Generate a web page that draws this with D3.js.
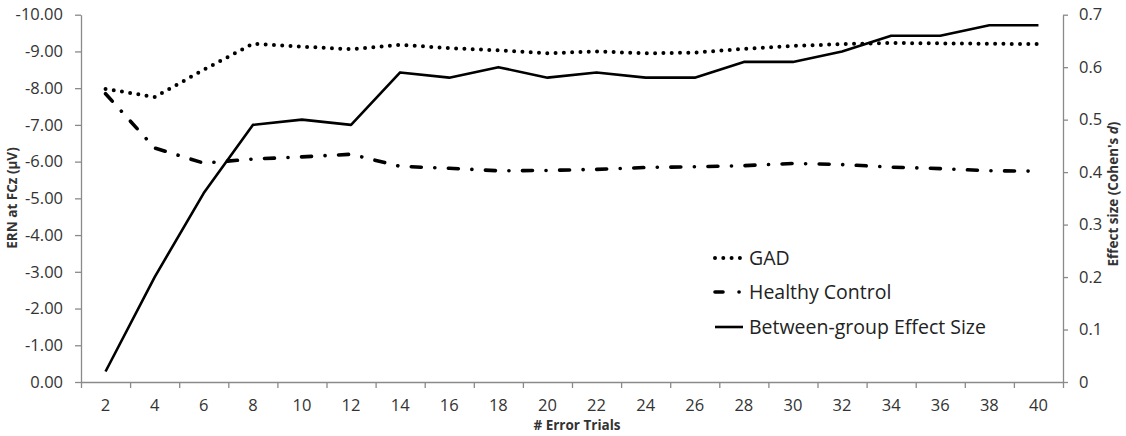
<!DOCTYPE html>
<html>
<head>
<meta charset="utf-8">
<script src="https://cdn.jsdelivr.net/npm/d3@7"></script>
<style>
html,body{margin:0;padding:0;background:#fff;}
svg{display:block;}
</style>
</head>
<body>
<svg id="chart" width="1126" height="436"></svg>
<script>
const trials = [2,4,6,8,10,12,14,16,18,20,22,24,26,28,30,32,34,36,38,40];
const gad = [-7.98,-7.76,-8.5,-9.21,-9.13,-9.06,-9.18,-9.09,-9.03,-8.95,-9.0,-8.95,-8.97,-9.07,-9.15,-9.2,-9.23,-9.22,-9.21,-9.2];
const healthy = [-7.85,-6.37,-5.96,-6.07,-6.13,-6.2,-5.87,-5.82,-5.75,-5.76,-5.79,-5.84,-5.86,-5.89,-5.95,-5.92,-5.85,-5.81,-5.75,-5.74];
const effect = [0.02,0.2,0.36,0.49,0.5,0.49,0.59,0.58,0.6,0.58,0.59,0.58,0.58,0.61,0.61,0.63,0.66,0.66,0.68,0.68];
const leftTicks = [0,-1,-2,-3,-4,-5,-6,-7,-8,-9,-10];
const rightTicks = [0,0.1,0.2,0.3,0.4,0.5,0.6,0.7];
const seriesNames = ["GAD","Healthy Control","Between-group Effect Size"];

const svg = d3.select("#chart");
const L = 81, R = 1063, T = 14.7, B = 382;
const font = "'Open Sans', sans-serif";
const axisColor = "#8a8a8a";
const textColor = "#333";

const x = d3.scaleBand().domain(trials).range([L, R]).padding(0);
const xEdge = d3.scaleLinear().domain([0, trials.length]).range([L, R]);
const yL = d3.scaleLinear().domain([0, -10]).range([B, T]);
const yR = d3.scaleLinear().domain([0, 0.7]).range([B, T]);
const cx = d => x(d) + x.bandwidth() / 2;

function styleAxis(g, size) {
  g.selectAll("path.domain").attr("stroke", axisColor).attr("stroke-width", 1.3);
  g.selectAll(".tick line").attr("stroke", axisColor).attr("stroke-width", 1.3);
  g.selectAll("text").attr("font-family", font).attr("font-size", size).attr("fill", textColor);
}

// x tick marks at band edges
const gxT = svg.append("g").attr("transform", `translate(0,${B})`)
  .call(d3.axisBottom(xEdge).tickValues(d3.range(trials.length + 1)).tickFormat("").tickSize(6).tickSizeOuter(0));
styleAxis(gxT, 16);
// x labels
const gx = svg.append("g").attr("transform", `translate(0,${B})`)
  .call(d3.axisBottom(x).tickSize(0).tickPadding(17));
gx.select("path.domain").remove();
styleAxis(gx, 16.5);

const gl = svg.append("g").attr("transform", `translate(${L},0)`)
  .call(d3.axisLeft(yL).tickValues(leftTicks).tickFormat(d => d.toFixed(2)).tickSize(6).tickPadding(12).tickSizeOuter(0));
styleAxis(gl, 16.5);

const gr = svg.append("g").attr("transform", `translate(${R},0)`)
  .call(d3.axisRight(yR).tickValues(rightTicks).tickFormat(d => String(+d.toFixed(1))).tickSize(5).tickPadding(11).tickSizeOuter(0));
styleAxis(gr, 16.5);

// axis titles
svg.append("text").attr("transform", `translate(17,198) rotate(-90)`)
  .attr("text-anchor", "middle").attr("font-family", font).attr("font-size", 13.5).attr("font-weight", "bold").attr("fill", textColor)
  .text("ERN at FCz (µV)");
const rt = svg.append("text").attr("transform", `translate(1118,194) rotate(-90)`)
  .attr("text-anchor", "middle").attr("font-family", font).attr("font-size", 13.5).attr("font-weight", "bold").attr("fill", textColor);
rt.append("tspan").text("Effect size (Cohen's ");
rt.append("tspan").attr("font-style", "italic").text("d");
rt.append("tspan").text(")");
svg.append("text").attr("x", 577).attr("y", 430)
  .attr("text-anchor", "middle").attr("font-family", font).attr("font-size", 13.5).attr("font-weight", "bold").attr("fill", textColor)
  .text("# Error Trials");

// styles
const styles = [
  {dash: "0 8.3", width: 4, cap: "round"},
  {dash: "10 13.5 0.1 13.5", width: 3.6, cap: "round"},
  {dash: null, width: 2.6, cap: "butt"}
];

const lineL = d3.line().x((d, i) => cx(trials[i])).y(d => yL(d));
const lineR = d3.line().x((d, i) => cx(trials[i])).y(d => yR(d));

function drawPath(data, gen, st) {
  const p = svg.append("path").datum(data).attr("d", gen)
    .attr("fill", "none").attr("stroke", "#000").attr("stroke-width", st.width)
    .attr("stroke-linecap", st.cap).attr("stroke-linejoin", "round");
  if (st.dash) p.attr("stroke-dasharray", st.dash);
}
drawPath(gad, lineL, styles[0]);
drawPath(healthy, lineL, styles[1]);
drawPath(effect, lineR, styles[2]);

// legend
const legY = [258, 292, 327];
seriesNames.forEach((name, i) => {
  const g = svg.append("g");
  const st = styles[i];
  const l = g.append("line").attr("x1", 715).attr("x2", 743).attr("y1", legY[i]).attr("y2", legY[i])
    .attr("stroke", "#000").attr("stroke-width", st.width).attr("stroke-linecap", st.cap);
  if (st.dash) l.attr("stroke-dasharray", i === 1 ? "8 16 0.1 20" : st.dash);
  g.append("text").attr("x", 749).attr("y", legY[i]).attr("dy", "0.36em")
    .attr("font-family", font).attr("font-size", 19.5).attr("fill", "#222").text(name);
});
</script>
</body>
</html>
